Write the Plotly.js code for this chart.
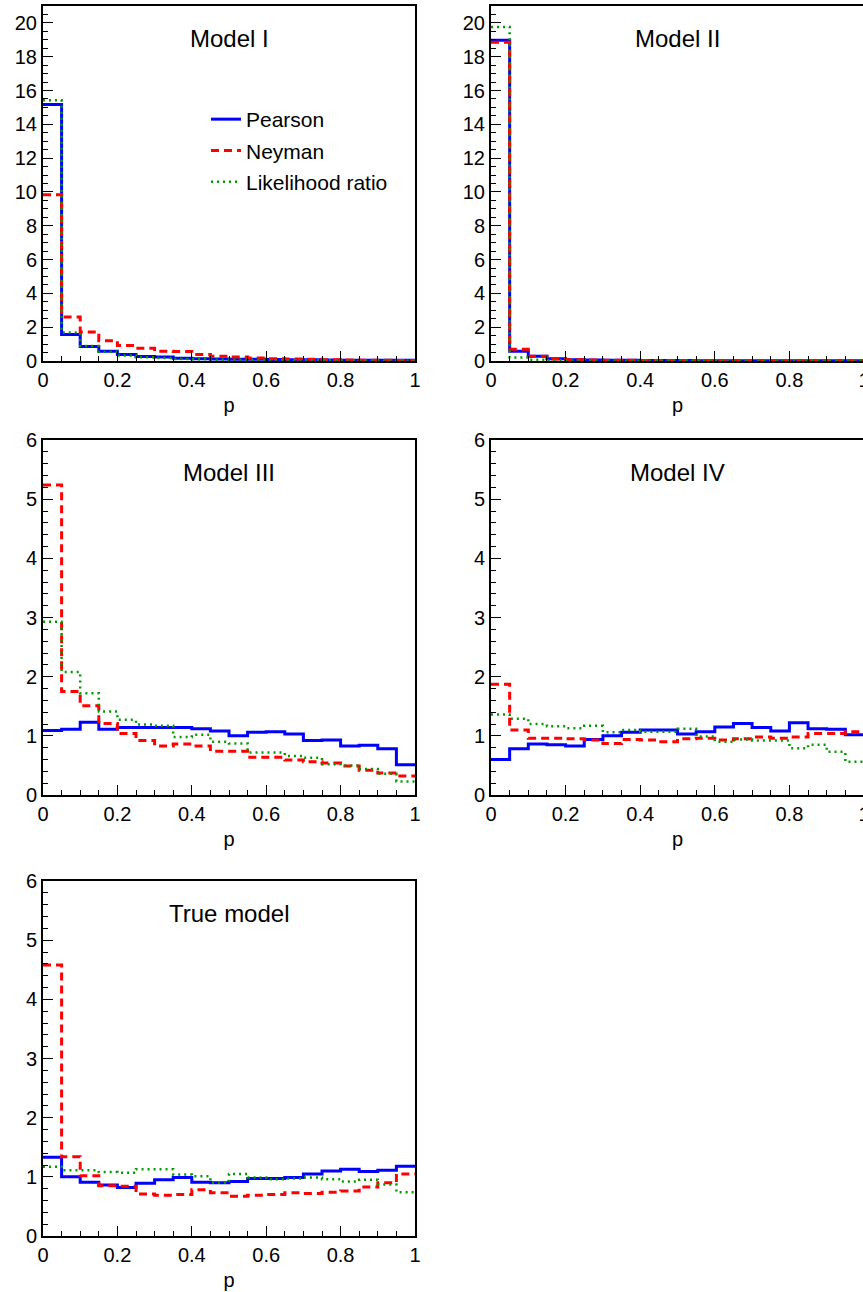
<!DOCTYPE html>
<html>
<head>
<meta charset="utf-8">
<script src="https://cdn.plot.ly/plotly-3.0.1.min.js"></script>
<style>html,body{margin:0;padding:0;background:#fff;overflow:hidden;}#chart{width:866px;height:1292px;}</style>
</head>
<body>
<div id="chart"></div>
<script>
// ---- data: 20 bins of width 0.05 on p in [0,1] ----
const binEdges = [0,0.05,0.1,0.15,0.2,0.25,0.3,0.35,0.4,0.45,0.5,0.55,0.6,0.65,0.7,0.75,0.8,0.85,0.9,0.95,1];
const seriesNames = ["Pearson", "Neyman", "Likelihood ratio"];
const panelTitles = ["Model I", "Model II", "Model III", "Model IV", "True model"];

const m1Pearson = [15.17,1.57,0.86,0.58,0.39,0.27,0.24,0.17,0.14,0.12,0.11,0.10,0.09,0.08,0.07,0.06,0.05,0.05,0.04,0.04];
const m1Neyman  = [9.84,2.60,1.72,1.20,0.91,0.75,0.57,0.56,0.39,0.28,0.24,0.18,0.14,0.12,0.10,0.08,0.06,0.05,0.04,0.03];
const m1LR      = [15.42,1.68,0.88,0.55,0.32,0.22,0.18,0.12,0.10,0.08,0.07,0.06,0.05,0.05,0.04,0.04,0.03,0.03,0.02,0.02];

const m2Pearson = [18.97,0.57,0.28,0.14,0.08,0.06,0.05,0.04,0.03,0.03,0.03,0.02,0.02,0.02,0.02,0.02,0.02,0.02,0.02,0.02];
const m2Neyman  = [18.86,0.69,0.28,0.12,0.08,0.06,0.05,0.04,0.03,0.03,0.03,0.02,0.02,0.02,0.02,0.02,0.02,0.02,0.02,0.02];
const m2LR      = [19.76,0.20,0.08,0.04,0.03,0.02,0.02,0.01,0.01,0.01,0.01,0.01,0.01,0.01,0.01,0.01,0.01,0.01,0.01,0.01];

const m3Pearson = [1.09,1.11,1.23,1.11,1.14,1.14,1.14,1.14,1.12,1.08,1.00,1.06,1.07,1.03,0.92,0.93,0.83,0.84,0.78,0.51];
const m3Neyman  = [5.24,1.75,1.51,1.21,1.04,0.92,0.83,0.86,0.83,0.74,0.74,0.64,0.64,0.59,0.56,0.54,0.49,0.42,0.37,0.32];
const m3LR      = [2.93,2.08,1.72,1.41,1.27,1.19,1.17,0.98,1.02,0.90,0.87,0.72,0.72,0.66,0.63,0.52,0.50,0.44,0.36,0.23];

const m4Pearson = [0.60,0.78,0.86,0.85,0.83,0.94,1.00,1.06,1.10,1.10,1.03,1.07,1.15,1.21,1.14,1.08,1.22,1.12,1.11,1.02];
const m4Neyman  = [1.87,1.10,0.96,0.96,0.95,0.93,0.87,0.94,0.93,0.90,0.95,0.96,0.93,0.95,0.98,0.96,0.98,1.04,1.04,1.07];
const m4LR      = [1.36,1.29,1.20,1.16,1.13,1.17,1.06,1.10,1.07,1.07,1.12,0.99,0.90,0.94,0.92,0.92,0.79,0.85,0.73,0.56];

const m5Pearson = [1.33,1.00,0.91,0.86,0.82,0.89,0.95,0.99,0.91,0.90,0.92,0.97,0.97,0.99,1.05,1.10,1.13,1.09,1.11,1.18];
const m5Neyman  = [4.58,1.34,1.02,0.85,0.84,0.71,0.69,0.70,0.78,0.73,0.67,0.69,0.70,0.73,0.72,0.74,0.76,0.83,0.90,1.05];
const m5LR      = [1.17,1.11,1.11,1.08,1.07,1.13,1.13,1.04,1.01,0.90,1.05,0.99,0.96,0.97,0.99,0.96,0.92,0.95,0.87,0.74];

const panels = [
  [m1Pearson, m1Neyman, m1LR],
  [m2Pearson, m2Neyman, m2LR],
  [m3Pearson, m3Neyman, m3LR],
  [m4Pearson, m4Neyman, m4LR],
  [m5Pearson, m5Neyman, m5LR]
];

// ---- styling / layout ----
const W = 866, H = 1292;
const FONT = "Liberation Sans, Arial, Helvetica, sans-serif";
const lineStyles = [
  {color: "#0000ff", width: 3, dash: "solid"},
  {color: "#ff0000", width: 3, dash: "8px,5px"},
  {color: "#009a00", width: 2.5, dash: "2px,4px"}
];
const colPx = [[43, 415], [491, 864]];
const rowPx = [[6, 361], [440, 795], [881, 1236]];
const yMax = [21, 21, 6, 6, 6];
const yDt = [2, 2, 1, 1, 1];
const yMinor = [0.5, 0.5, 0.2, 0.2, 0.2];

function step(v) { return v.concat([v[v.length - 1]]); }

const traces = [];
const layout = {
  width: W, height: H,
  margin: {l: 0, r: 0, t: 0, b: 0},
  paper_bgcolor: "#fff", plot_bgcolor: "#fff",
  font: {family: FONT, color: "#000", size: 20},
  showlegend: true,
  legend: {
    x: 206 / W, y: 1 - 99 / H, xanchor: "left", yanchor: "top",
    font: {family: FONT, size: 21, color: "#000"},
    bgcolor: "rgba(0,0,0,0)", borderwidth: 0, tracegroupgap: 1
  },
  annotations: []
};

panels.forEach((series, i) => {
  const k = i + 1;
  const col = i % 2, row = Math.floor(i / 2);
  const xs = k === 1 ? "x" : "x" + k, ys = k === 1 ? "y" : "y" + k;
  series.forEach((vals, j) => {
    traces.push({
      type: "scatter", mode: "lines",
      x: binEdges, y: step(vals),
      line: Object.assign({shape: "hv"}, lineStyles[j]),
      name: seriesNames[j], legendgroup: "g" + j,
      showlegend: i === 0,
      xaxis: xs, yaxis: ys, hoverinfo: "skip"
    });
  });
  const xd = [colPx[col][0] / W, colPx[col][1] / W];
  const yd = [1 - rowPx[row][1] / H, 1 - rowPx[row][0] / H];
  layout["xaxis" + (k === 1 ? "" : k)] = {
    domain: xd, anchor: ys, range: [0, 1.0000001],
    tick0: 0, dtick: 0.2, ticks: "inside", ticklen: 10, tickwidth: 1, tickcolor: "#000",
    minor: {tick0: 0, dtick: 0.05, ticks: "inside", ticklen: 5, tickwidth: 1, tickcolor: "#000"},
    showline: true, mirror: true, linecolor: "#000", linewidth: 2,
    showgrid: false, zeroline: false, automargin: false, ticklabeloverflow: "allow",
    tickfont: {family: FONT, size: 20, color: "#000"},
    title: {text: "p", font: {family: FONT, size: 20, color: "#000"}, standoff: 8}
  };
  layout["yaxis" + (k === 1 ? "" : k)] = {
    domain: yd, anchor: xs, range: [0, yMax[i]],
    tick0: 0, dtick: yDt[i], ticks: "inside", ticklen: 10, tickwidth: 1, tickcolor: "#000",
    minor: {tick0: 0, dtick: yMinor[i], ticks: "inside", ticklen: 5, tickwidth: 1, tickcolor: "#000"},
    showline: true, mirror: true, linecolor: "#000", linewidth: 2,
    showgrid: false, zeroline: false, automargin: false,
    tickfont: {family: FONT, size: 20, color: "#000"}
  };
  layout.annotations.push({
    text: panelTitles[i], xref: "paper", yref: "paper",
    x: (xd[0] + xd[1]) / 2, y: 1 - (rowPx[row][0] + 32) / H,
    xanchor: "center", yanchor: "middle", showarrow: false,
    font: {family: FONT, size: 24, color: "#000"}
  });
});

Plotly.newPlot("chart", traces, layout, {staticPlot: true, displayModeBar: false});
</script>
</body>
</html>
